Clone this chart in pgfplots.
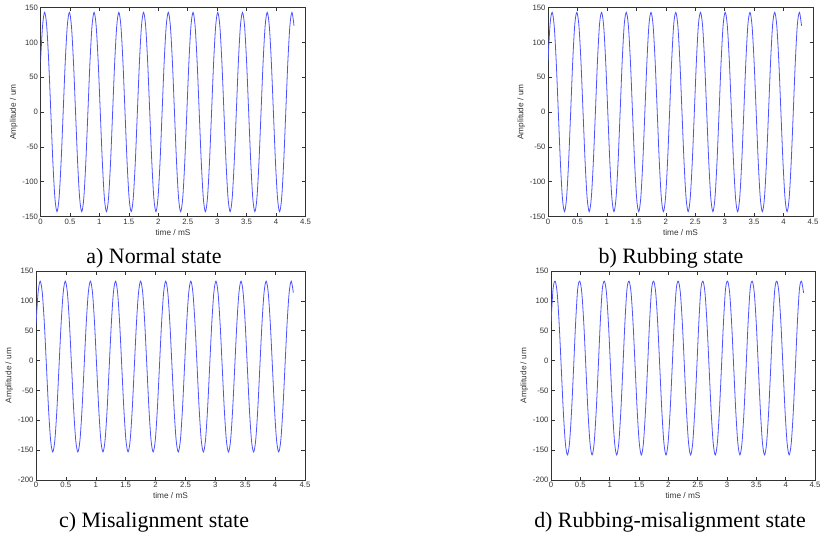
\documentclass[border=0pt]{standalone}
\usepackage{pgfplots}
\usepackage{pgfplotstable}
\pgfplotsset{compat=1.18}
\usepackage{fontspec}
\setmainfont{Liberation Sans}
\newfontfamily\tnr{Liberation Serif}
\definecolor{wave}{rgb}{0.3,0.32,1}

\pgfplotstableread{
t a b c d
0 71.5 73 61.5 64
0.035 123.8 126 113.8 120
0.07 143 143 133 133
0.105 123.8 123.8 113.8 113.5
0.14 71.5 71.5 61.5 60.3
0.175 0 0 -10 -12.5
0.21 -71.5 -71.5 -81.5 -85.3
0.245 -123.8 -123.8 -133.8 -138.5
0.28 -143 -143 -153 -158
0.315 -123.8 -123.8 -133.8 -138.5
0.35 -71.5 -71.5 -81.5 -85.3
0.385 0 0 -10 -12.5
0.42 71.5 73 61.5 64
0.455 123.8 126 113.8 120
0.49 143 143 133 133
0.525 123.8 123.8 113.8 113.5
0.56 71.5 71.5 61.5 60.3
0.595 0 0 -10 -12.5
0.63 -71.5 -71.5 -81.5 -85.3
0.665 -123.8 -123.8 -133.8 -138.5
0.7 -143 -143 -153 -158
0.735 -123.8 -123.8 -133.8 -138.5
0.77 -71.5 -71.5 -81.5 -85.3
0.805 0 0 -10 -12.5
0.84 71.5 73 61.5 64
0.875 123.8 126 113.8 120
0.91 143 143 133 133
0.945 123.8 123.8 113.8 113.5
0.98 71.5 71.5 61.5 60.3
1.015 0 0 -10 -12.5
1.05 -71.5 -71.5 -81.5 -85.3
1.085 -123.8 -123.8 -133.8 -138.5
1.12 -143 -143 -153 -158
1.155 -123.8 -123.8 -133.8 -138.5
1.19 -71.5 -71.5 -81.5 -85.3
1.225 0 0 -10 -12.5
1.26 71.5 73 61.5 64
1.295 123.8 126 113.8 120
1.33 143 143 133 133
1.365 123.8 123.8 113.8 113.5
1.4 71.5 71.5 61.5 60.3
1.435 0 0 -10 -12.5
1.47 -71.5 -71.5 -81.5 -85.3
1.505 -123.8 -123.8 -133.8 -138.5
1.54 -143 -143 -153 -158
1.575 -123.8 -123.8 -133.8 -138.5
1.61 -71.5 -71.5 -81.5 -85.3
1.645 0 0 -10 -12.5
1.68 71.5 73 61.5 64
1.715 123.8 126 113.8 120
1.75 143 143 133 133
1.785 123.8 123.8 113.8 113.5
1.82 71.5 71.5 61.5 60.3
1.855 0 0 -10 -12.5
1.89 -71.5 -71.5 -81.5 -85.3
1.925 -123.8 -123.8 -133.8 -138.5
1.96 -143 -143 -153 -158
1.995 -123.8 -123.8 -133.8 -138.5
2.03 -71.5 -71.5 -81.5 -85.3
2.065 0 0 -10 -12.5
2.1 71.5 73 61.5 64
2.135 123.8 126 113.8 120
2.17 143 143 133 133
2.205 123.8 123.8 113.8 113.5
2.24 71.5 71.5 61.5 60.3
2.275 0 0 -10 -12.5
2.31 -71.5 -71.5 -81.5 -85.3
2.345 -123.8 -123.8 -133.8 -138.5
2.38 -143 -143 -153 -158
2.415 -123.8 -123.8 -133.8 -138.5
2.45 -71.5 -71.5 -81.5 -85.3
2.485 0 0 -10 -12.5
2.52 71.5 73 61.5 64
2.555 123.8 126 113.8 120
2.59 143 143 133 133
2.625 123.8 123.8 113.8 113.5
2.66 71.5 71.5 61.5 60.3
2.695 0 0 -10 -12.5
2.73 -71.5 -71.5 -81.5 -85.3
2.765 -123.8 -123.8 -133.8 -138.5
2.8 -143 -143 -153 -158
2.835 -123.8 -123.8 -133.8 -138.5
2.87 -71.5 -71.5 -81.5 -85.3
2.905 0 0 -10 -12.5
2.94 71.5 73 61.5 64
2.975 123.8 126 113.8 120
3.01 143 143 133 133
3.045 123.8 123.8 113.8 113.5
3.08 71.5 71.5 61.5 60.3
3.115 0 0 -10 -12.5
3.15 -71.5 -71.5 -81.5 -85.3
3.185 -123.8 -123.8 -133.8 -138.5
3.22 -143 -143 -153 -158
3.255 -123.8 -123.8 -133.8 -138.5
3.29 -71.5 -71.5 -81.5 -85.3
3.325 0 0 -10 -12.5
3.36 71.5 73 61.5 64
3.395 123.8 126 113.8 120
3.43 143 143 133 133
3.465 123.8 123.8 113.8 113.5
3.5 71.5 71.5 61.5 60.3
3.535 0 0 -10 -12.5
3.57 -71.5 -71.5 -81.5 -85.3
3.605 -123.8 -123.8 -133.8 -138.5
3.64 -143 -143 -153 -158
3.675 -123.8 -123.8 -133.8 -138.5
3.71 -71.5 -71.5 -81.5 -85.3
3.745 0 0 -10 -12.5
3.78 71.5 73 61.5 64
3.815 123.8 126 113.8 120
3.85 143 143 133 133
3.885 123.8 123.8 113.8 113.5
3.92 71.5 71.5 61.5 60.3
3.955 0 0 -10 -12.5
3.99 -71.5 -71.5 -81.5 -85.3
4.025 -123.8 -123.8 -133.8 -138.5
4.06 -143 -143 -153 -158
4.095 -123.8 -123.8 -133.8 -138.5
4.13 -71.5 -71.5 -81.5 -85.3
4.165 0 0 -10 -12.5
4.2 71.5 73 61.5 64
4.235 123.8 126 113.8 120
4.27 143 143 133 133
4.305 123.8 123.8 113.8 113.5
}\wavedata

\pgfplotsset{
  myax/.style={
    scale only axis,
    height=209bp,
    xmin=0, xmax=4.5,
    xtick={0,0.5,...,4.5},
    xticklabels={0,0.5,1,1.5,2,2.5,3,3.5,4,4.5},
    tick align=inside,
    major tick length=3.5bp,
    axis line style={black!80, line width=0.5bp},
    every tick/.style={black!80, line width=0.5bp},
    /pgf/number format/assume math mode=true,
    ticklabel style={font=\fontsize{7.8}{8.5}\selectfont, text=black!80},
    yticklabel style={xshift=1bp},
    xticklabel style={yshift=1bp},
    label style={font=\fontsize{8.3}{9}\selectfont, text=black!80},
    xlabel={time / mS},
    ylabel={Amplitude / um},
    xlabel style={yshift=2bp},
    ylabel style={yshift=-2bp},
    anchor=north west,
  },
  wv/.style={wave, line width=0.8bp, smooth, no markers},
}

\begin{document}
\begin{tikzpicture}
\path[use as bounding box] (0bp,0bp) rectangle (822bp,-533bp);

\begin{axis}[myax, at={(40.5bp,-7.5bp)}, width=265bp, ymin=-150, ymax=150, ytick={-150,-100,...,150}]
\addplot[wv] table[x=t, y=a] {\wavedata};
\end{axis}

\begin{axis}[myax, at={(548bp,-7.5bp)}, width=265bp, ymin=-150, ymax=150, ytick={-150,-100,...,150}]
\addplot[wv] table[x=t, y=b] {\wavedata};
\end{axis}

\begin{axis}[myax, at={(36bp,-271bp)}, width=269bp, ymin=-200, ymax=150, ytick={-200,-150,...,150}]
\addplot[wv] table[x=t, y=c] {\wavedata};
\end{axis}

\begin{axis}[myax, at={(551bp,-271bp)}, width=264bp, ymin=-200, ymax=150, ytick={-200,-150,...,150}]
\addplot[wv] table[x=t, y=d] {\wavedata};
\end{axis}

\node[font=\tnr\fontsize{22}{24}\selectfont, anchor=base] at (154bp,-263bp) {a) Normal state};
\node[font=\tnr\fontsize{22}{24}\selectfont, anchor=base] at (671bp,-263bp) {b) Rubbing state};
\node[font=\tnr\fontsize{22}{24}\selectfont, anchor=base] at (154bp,-527bp) {c) Misalignment state};
\node[font=\tnr\fontsize{22}{24}\selectfont, anchor=base] at (670bp,-527bp) {d) Rubbing-misalignment state};
\end{tikzpicture}
\end{document}
